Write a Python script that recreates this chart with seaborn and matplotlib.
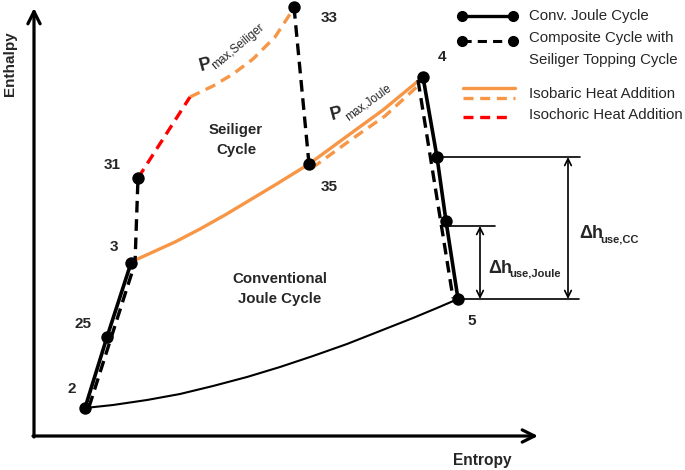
import matplotlib
matplotlib.use("Agg")
import matplotlib.pyplot as plt
import seaborn as sns

sns.set_style("white")
plt.rcParams["font.family"] = ["Liberation Sans", "DejaVu Sans"]

# state points (x ~ entropy, y ~ enthalpy, in picture units, y grows downwards)
state_labels = ["2", "25", "3", "31", "33", "35", "4", "4a", "4b", "5"]
state_s = [85, 107, 131, 138, 294, 309, 423, 437, 446, 458]
state_h = [408, 337, 263, 178, 7, 164, 77, 157, 221, 299]

# conventional Joule cycle (solid)
joule_comp_s = [85, 107, 131]
joule_comp_h = [408, 337, 263]
joule_exp_s = [423, 437, 446, 458]
joule_exp_h = [77, 157, 221, 299]

# composite cycle (dashed black)
cc_comp_s = [89, 135, 138]
cc_comp_h = [407, 263, 178]
cc_exp_s = [294, 309]
cc_exp_h = [7, 164]
cc_turb_s = [418, 453]
cc_turb_h = [80, 298]

# isobaric heat addition p_max,Joule (solid orange)
iso_joule_s = [131, 153, 175, 200, 225, 250, 275, 309, 350, 383, 423]
iso_joule_h = [262, 252, 242, 229, 215, 200, 185, 164, 134, 110, 77]
# isobaric, composite (dashed orange)
iso_cc_s = [312, 352, 385, 420]
iso_cc_h = [168, 139, 116, 84]
# isobaric p_max,Seiliger (dashed orange)
iso_sei_s = [190, 213, 233, 253, 275, 294]
iso_sei_h = [97, 86, 74, 59, 37, 8]
# isochoric heat addition (dashed red)
isoch_s = [138, 190]
isoch_h = [178, 97]
# heat rejection (thin black)
rej_s = [85, 113, 147, 180, 213, 247, 280, 313, 347, 380, 413, 437, 458]
rej_h = [408, 405, 400, 394, 386, 377, 367, 356, 344, 331, 318, 308, 299]

ORANGE = "#f79646"
RED = "#ff0000"

fig = plt.figure(figsize=(6.85, 4.7), dpi=100)
ax = fig.add_axes([0, 0, 1, 1])
ax.set_xlim(0, 685)
ax.set_ylim(470, 0)
ax.axis("off")

# axes arrows
ax.annotate("", xy=(34, 8), xytext=(34, 437),
            arrowprops=dict(arrowstyle="->", lw=2.3, color="black", mutation_scale=22,
                            shrinkA=0, shrinkB=0))
ax.annotate("", xy=(538, 436), xytext=(33, 436),
            arrowprops=dict(arrowstyle="->", lw=2.3, color="black", mutation_scale=22,
                            shrinkA=0, shrinkB=0))
ax.text(10, 64, "Enthalpy", rotation=90, ha="center", va="center", fontsize=11, fontweight="bold")
ax.text(482, 460, "Entropy", ha="center", va="center", fontsize=11.2, fontweight="bold")

# cycle lines
line = dict(sort=False, estimator=None, ax=ax)
sns.lineplot(x=rej_s, y=rej_h, color="black", lw=1.5, **line)
sns.lineplot(x=iso_joule_s, y=iso_joule_h, color=ORANGE, lw=2.4, **line)
sns.lineplot(x=iso_cc_s, y=iso_cc_h, color=ORANGE, lw=2.4, linestyle=(0, (3.2, 2)), **line)
sns.lineplot(x=iso_sei_s, y=iso_sei_h, color=ORANGE, lw=2.4, linestyle=(0, (3.2, 2)), **line)
sns.lineplot(x=isoch_s, y=isoch_h, color=RED, lw=2.4, linestyle=(0, (3.2, 2)), **line)
sns.lineplot(x=joule_comp_s, y=joule_comp_h, color="black", lw=2.6, **line)
sns.lineplot(x=joule_exp_s, y=joule_exp_h, color="black", lw=2.6, **line)
for xs, ys in [(cc_comp_s, cc_comp_h), (cc_exp_s, cc_exp_h), (cc_turb_s, cc_turb_h)]:
    sns.lineplot(x=xs, y=ys, color="black", lw=2.4, linestyle=(0, (3.5, 2)), **line)

sns.scatterplot(x=state_s, y=state_h, s=80, color="black", linewidth=0, zorder=5, ax=ax)

# state labels
lab = dict(ha="center", va="center", fontsize=11, fontweight="bold")
for t, x, y in [("2", 72, 389), ("25", 83, 324), ("3", 114, 247), ("31", 112, 165),
                ("33", 329, 18), ("35", 329, 187), ("4", 442, 57), ("5", 472, 321)]:
    ax.text(x, y, t, **lab)

ax.text(236, 140, "Seiliger\nCycle", ha="center", va="center", fontsize=10.8,
        fontweight="bold", linespacing=1.5)
ax.text(280, 289, "Conventional\nJoule Cycle", ha="center", va="center", fontsize=10.8,
        fontweight="bold", linespacing=1.5)

# pressure labels
ax.text(205, 65, "P", ha="center", va="center", fontsize=13, fontweight="bold", rotation=15)
ax.text(238, 47, "max,Seiliger", ha="center", va="center", fontsize=8.5, rotation=40)
ax.text(336, 114, "P", ha="center", va="center", fontsize=13, fontweight="bold", rotation=15)
ax.text(368, 103, "max,Joule", ha="center", va="center", fontsize=8.5, rotation=36)

# enthalpy drop markers
thin = dict(color="black", lw=1.2)
ax.plot([437, 580], [157, 157], **thin)
ax.plot([458, 579], [299, 299], **thin)
ax.plot([446, 495], [226, 226], **thin)
ax.annotate("", xy=(568, 157), xytext=(568, 299),
            arrowprops=dict(arrowstyle="<->", lw=1.2, color="black", mutation_scale=12,
                            shrinkA=0, shrinkB=0))
ax.annotate("", xy=(480, 226), xytext=(480, 299),
            arrowprops=dict(arrowstyle="<->", lw=1.2, color="black", mutation_scale=12,
                            shrinkA=0, shrinkB=0))
ax.text(579, 238, "\u0394h", ha="left", va="baseline", fontsize=13, fontweight="bold")
ax.text(600, 242, "use,CC", ha="left", va="baseline", fontsize=8, fontweight="bold")
ax.text(488, 273, "\u0394h", ha="left", va="baseline", fontsize=13, fontweight="bold")
ax.text(509, 277, "use,Joule", ha="left", va="baseline", fontsize=8, fontweight="bold")

# legend
ax.plot([462, 513], [16, 16], color="black", lw=2.4, marker="o", ms=7)
ax.plot([462, 513], [41, 41], color="black", lw=2.2, ls=(0, (3, 2)), marker="o", ms=7)
ax.plot([463, 515], [88, 88], color=ORANGE, lw=2.4)
ax.plot([463, 515], [98, 98], color=ORANGE, lw=2.4, ls=(0, (3, 2)))
ax.plot([463, 513], [117, 117], color=RED, lw=2.4, ls=(0, (3, 2)))
leg = dict(ha="left", va="baseline", fontsize=10.8)
ax.text(529, 20, "Conv. Joule Cycle", **leg)
ax.text(529, 42, "Composite Cycle with", **leg)
ax.text(529, 64, "Seiliger Topping Cycle", **leg)
ax.text(529, 98, "Isobaric Heat Addition", **leg)
ax.text(529, 119, "Isochoric Heat Addition", **leg)

fig.savefig("out.png", dpi=100)
